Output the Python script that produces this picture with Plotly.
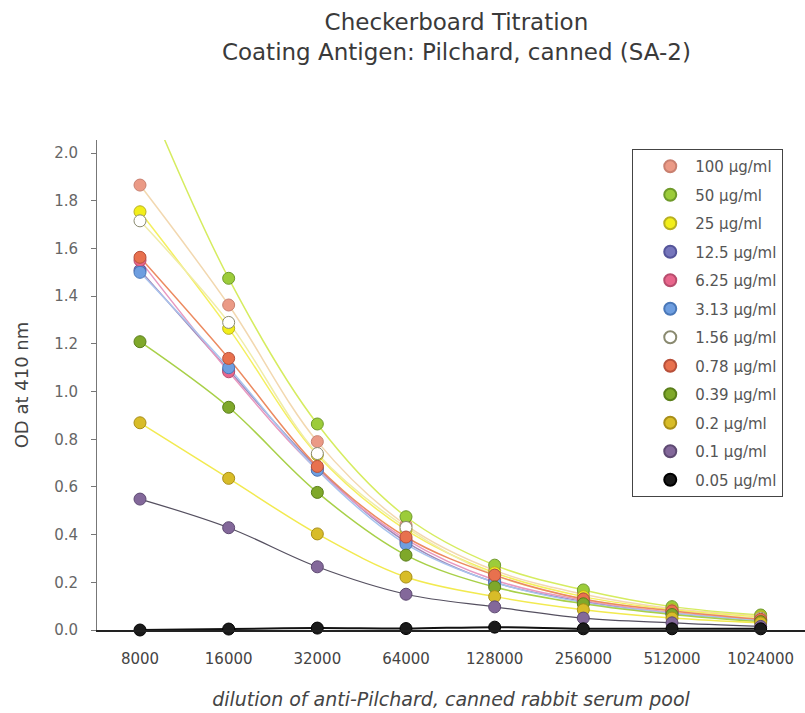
import plotly.graph_objects as go
import math

dilutions = [8000, 16000, 32000, 64000, 128000, 256000, 512000, 1024000]
tick_labels = ["8000", "16000", "32000", "64000", "128000", "256000", "512000", "1024000"]

series_names = ["100 µg/ml", "50 µg/ml", "25 µg/ml", "12.5 µg/ml", "6.25 µg/ml", "3.13 µg/ml",
                "1.56 µg/ml", "0.78 µg/ml", "0.39 µg/ml", "0.2 µg/ml", "0.1 µg/ml", "0.05 µg/ml"]

od_100 = [1.866, 1.363, 0.790, 0.440, 0.250, 0.150, 0.090, 0.060]
od_50 = [2.300, 1.475, 0.864, 0.475, 0.272, 0.168, 0.098, 0.063]
od_25 = [1.754, 1.265, 0.734, 0.420, 0.240, 0.140, 0.085, 0.055]
od_12_5 = [1.509, 1.090, 0.680, 0.370, 0.200, 0.120, 0.070, 0.040]
od_6_25 = [1.550, 1.083, 0.672, 0.380, 0.210, 0.125, 0.075, 0.045]
od_3_13 = [1.500, 1.100, 0.670, 0.360, 0.200, 0.115, 0.070, 0.040]
od_1_56 = [1.716, 1.290, 0.740, 0.430, 0.230, 0.130, 0.080, 0.050]
od_0_78 = [1.563, 1.139, 0.686, 0.390, 0.230, 0.130, 0.080, 0.045]
od_0_39 = [1.209, 0.934, 0.577, 0.314, 0.180, 0.110, 0.065, 0.035]
od_0_2 = [0.869, 0.636, 0.403, 0.222, 0.140, 0.085, 0.050, 0.030]
od_0_1 = [0.549, 0.429, 0.265, 0.150, 0.097, 0.050, 0.030, 0.015]
od_0_05 = [0.000, 0.004, 0.008, 0.006, 0.012, 0.005, 0.005, 0.005]

all_series = [od_100, od_50, od_25, od_12_5, od_6_25, od_3_13, od_1_56, od_0_78,
              od_0_39, od_0_2, od_0_1, od_0_05]

marker_fill = ["#eb9a86", "#9ccc3a", "#f2ee1a", "#7676bc", "#e8668c", "#6e9ee0",
               "#ffffff", "#e8714e", "#7fa82a", "#d8bc28", "#83689a", "#1a1a1a"]
marker_edge = ["#c98070", "#6f9a2a", "#b8b020", "#55559a", "#b84d6e", "#4a78b8",
               "#8a8a70", "#b8503a", "#5a7e1a", "#a88e18", "#5e4a72", "#000000"]
line_colors = ["#f2d8b0", "#d6ec60", "#f4f060", "#a088b8", "#e898c0", "#a8c4ee",
               "#f0eca8", "#ec8a60", "#a8d048", "#f2ea50", "#555060", "#111111"]
line_widths = [1.5, 1.5, 1.5, 1.5, 1.5, 1.5, 1.5, 1.5, 1.5, 1.5, 1.2, 2.0]

fig = go.Figure()

# fitted-looking smooth curves
for vals, lc, lw in zip(all_series, line_colors, line_widths):
    fig.add_trace(go.Scatter(
        x=dilutions, y=vals, mode="lines", line=dict(color=lc, width=lw, shape="spline", smoothing=1.0),
        showlegend=False, hoverinfo="skip"))

# markers (points above the axis top are not shown)
y_top = 2.055
for i, (name, vals, fc, ec) in enumerate(zip(series_names, all_series, marker_fill, marker_edge)):
    yv = [v if v <= 2.0 else None for v in vals]
    fig.add_trace(go.Scatter(
        x=dilutions, y=yv, mode="markers", name=name, legendgroup=f"g{i}",
        marker=dict(size=12, color=fc, line=dict(color=ec, width=1)),
        cliponaxis=False))

lx0 = math.log10(8000) - 0.485 * math.log10(2)
lx1 = math.log10(8000) + 7.5 * math.log10(2)

FONT = "DejaVu Sans, Liberation Sans, Arial, sans-serif"

fig.update_layout(
    width=805, height=713,
    margin=dict(l=97, r=0, t=140, b=83),
    paper_bgcolor="white", plot_bgcolor="white",
    font=dict(family=FONT, color="#444444"),
    title=dict(text="Checkerboard Titration<br>Coating Antigen: Pilchard, canned (SA-2)",
               x=0.567, xanchor="center", yref="container", y=0.958, yanchor="middle",
               font=dict(size=23, color="#3a3a3a")),
    xaxis=dict(type="log", range=[lx0, lx1], tickvals=dilutions, ticktext=tick_labels,
               showgrid=False, zeroline=False, showline=True, linecolor="#222222", linewidth=1.5,
               ticks="", tickfont=dict(size=15, color="#444444"), ticklabelstandoff=14,
               title=dict(text="<i>dilution of anti-Pilchard, canned rabbit serum pool</i>",
                          font=dict(size=19, color="#444444"), standoff=26)),
    yaxis=dict(range=[0, y_top], tickvals=[0, 0.2, 0.4, 0.6, 0.8, 1.0, 1.2, 1.4, 1.6, 1.8, 2.0],
               tickformat=".1f", showgrid=False, zeroline=False, showline=True,
               linecolor="#777777", linewidth=1, ticks="outside", ticklen=5, tickcolor="#777777",
               tickfont=dict(size=15, color="#666666"), ticklabelstandoff=10,
               title=dict(text="OD at 410 nm", font=dict(size=18, color="#444444"), standoff=20)),
    legend=dict(x=0.756, y=0.9816, xanchor="left", yanchor="top",
                bordercolor="#444444", borderwidth=1, bgcolor="white",
                font=dict(size=15, color="#555555"), tracegroupgap=6,
                itemsizing="constant", itemwidth=40, indentation=12,
                entrywidth=180, entrywidthmode="pixels"),
)

fig.write_html("out.html")
